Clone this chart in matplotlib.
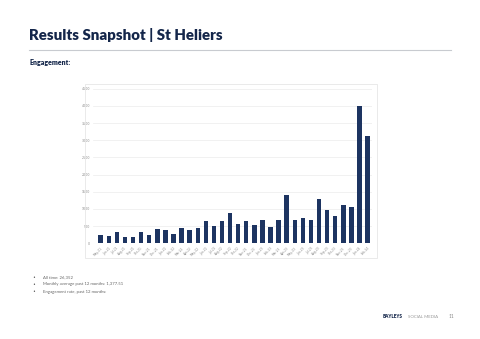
import matplotlib
matplotlib.use("Agg")
import matplotlib.pyplot as plt
from matplotlib.patches import Rectangle
from matplotlib.lines import Line2D

months = ["May-21", "Jun-21", "Jul-21", "Aug-21", "Sep-21", "Oct-21", "Nov-21", "Dec-21",
          "Jan-22", "Feb-22", "Mar-22", "Apr-22", "May-22", "Jun-22", "Jul-22", "Aug-22",
          "Sep-22", "Oct-22", "Nov-22", "Dec-22", "Jan-23", "Feb-23", "Mar-23", "Apr-23",
          "May-23", "Jun-23", "Jul-23", "Aug-23", "Sep-23", "Oct-23", "Nov-23", "Dec-23",
          "Jan-24", "Feb-24"]
engagement = [233, 204, 338, 175, 193, 338, 233, 416, 397, 271, 455, 397, 436, 640,
              513, 649, 885, 565, 645, 545, 669, 484, 678, 1397, 678, 727, 669, 1289,
              960, 785, 1123, 1065, 4004, 3113]
yticks = [0, 500, 1000, 1500, 2000, 2500, 3000, 3500, 4000, 4500]
bullets = ["All time: 26,352", "Monthly average past 12 months: 1,377.51",
           "Engagement rate, past 12 months:"]

W, H = 480, 339
fig = plt.figure(figsize=(W / 100, H / 100), dpi=100)
fig.patch.set_facecolor("white")

navy = "#1d3461"

# chart frame
fig.patches.append(Rectangle((85 / W, 1 - 258 / H), (377 - 85) / W, (258 - 84) / H,
                             transform=fig.transFigure, fill=False,
                             edgecolor="#e6e6e6", linewidth=0.6))

ax = fig.add_axes([93 / W, 1 - 243.3 / H, 279 / W, (243.3 - 88.7) / H])
x = list(range(len(months)))
ax.bar(x, engagement, width=0.55, color=navy, zorder=3)
ax.set_xlim(-0.95, 33.55)
ax.set_ylim(0, 4500)
ax.set_yticks(yticks)
ax.set_yticklabels([str(v) for v in yticks], fontsize=2.3, color="#8a8a8a")
ax.set_xticks(x)
ax.set_xticklabels(months, rotation=45, ha="right", rotation_mode="anchor",
                   fontsize=2.2, color="#8a8a8a")
ax.tick_params(length=0, pad=2)
ax.grid(axis="y", color="#ececec", linewidth=0.5, zorder=0)
for s in ax.spines.values():
    s.set_visible(False)

# title and header
fig.text(29 / W, 1 - 35 / H, "Results Snapshot | St Heliers", fontsize=10.8,
         fontweight="heavy", color="#14264a", family="Lato", va="center")
fig.add_artist(Line2D([29 / W, 451 / W], [1 - 49.5 / H, 1 - 49.5 / H],
                      color="#c8cbd0", linewidth=0.8, transform=fig.transFigure))
fig.text(29 / W, 1 - 63 / H, "Engagement:", fontsize=5.0, fontweight="heavy",
         color="#14264a", family="Lato", va="center")

for i, t in enumerate(bullets):
    yy = 1 - (277.5 + i * 7) / H
    fig.text(32 / W, yy, "•", fontsize=3.5, color="#555555", va="center")
    fig.text(43 / W, yy, t, fontsize=3.1, color="#666666", va="center", family="Lato")

fig.text(383 / W, 1 - 317 / H, "BAYLEYS", fontsize=3.3, fontweight="heavy",
         color="#14264a", va="center", family="Lato")
fig.text(408 / W, 1 - 317 / H, "SOCIAL MEDIA", fontsize=3.2, color="#999999",
         va="center", family="Lato")
fig.text(449 / W, 1 - 317 / H, "11", fontsize=3.4, color="#888888", va="center",
         family="Lato")

fig.savefig("out.png", dpi=100, facecolor="white")
